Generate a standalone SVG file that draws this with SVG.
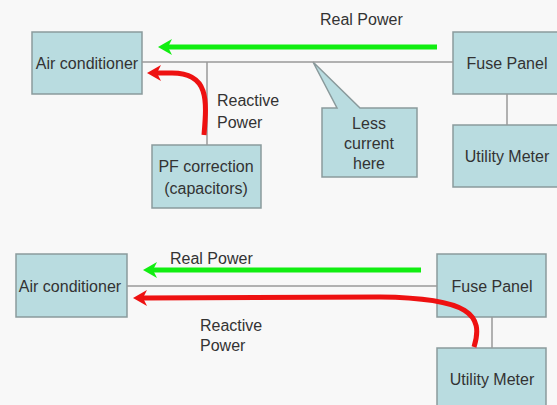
<svg xmlns="http://www.w3.org/2000/svg" width="557" height="405" viewBox="0 0 557 405">
<style>
.box{fill:#b9dce0;stroke:#8a9a9c;stroke-width:1.5}
.wire{fill:none;stroke:#9a9a9a;stroke-width:1.5}
.t{font-family:"Liberation Sans",Arial,sans-serif;font-size:16px;fill:#333}
.c{text-anchor:middle}
.g{fill:none;stroke:#11ee11;stroke-width:5}
.r{fill:none;stroke:#ee1111;stroke-width:5}
</style>
<defs>
<marker id="ag" markerUnits="userSpaceOnUse" viewBox="-15 -9 16 18" markerWidth="16" markerHeight="18" refX="-10" refY="0" orient="auto">
<path d="M-14,-8 L0,0 L-14,8 L-10,0 Z" fill="#11ee11"/>
</marker>
<marker id="ar" markerUnits="userSpaceOnUse" viewBox="-15 -9 16 18" markerWidth="16" markerHeight="18" refX="-10" refY="0" orient="auto">
<path d="M-14,-8 L0,0 L-14,8 L-10,0 Z" fill="#ee1111"/>
</marker>
</defs>
<rect width="557" height="405" fill="#f8f8f8"/>
<g id="real-power-top"><text class="t" x="320" y="25">Real Power</text></g>
<g id="reactive-top"><text class="t" x="217" y="106">Reactive</text><text class="t" x="217" y="128">Power</text></g>
<g id="ac-top"><rect class="box" x="32" y="32" width="110" height="62"/><text class="t c" x="87" y="68.5">Air conditioner</text></g>
<g id="pf-correction"><rect class="box" x="152" y="145" width="109" height="63"/><text class="t c" x="206" y="172">PF correction</text><text class="t c" x="206" y="194">(capacitors)</text></g>
<g id="callout"><path class="box" d="M322,108 L337,108 L313,62 L360,108 L417,108 L417,177 L322,177 Z"/><text class="t c" x="369" y="129">Less</text><text class="t c" x="369" y="149">current</text><text class="t c" x="369" y="169">here</text></g>
<g id="fuse-top"><rect class="box" x="453" y="32" width="110" height="62"/><text class="t c" x="507" y="68.5">Fuse Panel</text></g>
<g id="meter-top"><rect class="box" x="453" y="125" width="110" height="62"/><text class="t c" x="507" y="161.5">Utility Meter</text></g>
<g id="real-power-bottom"><text class="t" x="170" y="263.5">Real Power</text></g>
<g id="reactive-bottom"><text class="t" x="200" y="330.5">Reactive</text><text class="t" x="200" y="350.5">Power</text></g>
<g id="ac-bottom"><rect class="box" x="16" y="254" width="111" height="63"/><text class="t c" x="70" y="291.5">Air conditioner</text></g>
<g id="fuse-bottom"><rect class="box" x="437" y="254" width="109" height="63"/><text class="t c" x="492" y="291.5">Fuse Panel</text></g>
<g id="meter-bottom"><rect class="box" x="437" y="348" width="109" height="63"/><text class="t c" x="492" y="384.5">Utility Meter</text></g>
<g id="connectors">
<path class="wire" d="M142,62 H453"/>
<path class="wire" d="M207,62 V145"/>
<path class="wire" d="M507,94 V125"/>
<path class="wire" d="M127,286 H437"/>
<path class="wire" d="M492,317 V348"/>
<path class="g" d="M437,47 H168" marker-end="url(#ag)"/>
<path class="r" d="M204,135 C207,100 209,73 172,73 L157,73" marker-end="url(#ar)"/>
<path class="g" d="M421,270 H153" marker-end="url(#ag)"/>
<path class="r" d="M474,347 C484,315 470,298 380,297 L143,298" marker-end="url(#ar)"/>
</g>
</svg>
